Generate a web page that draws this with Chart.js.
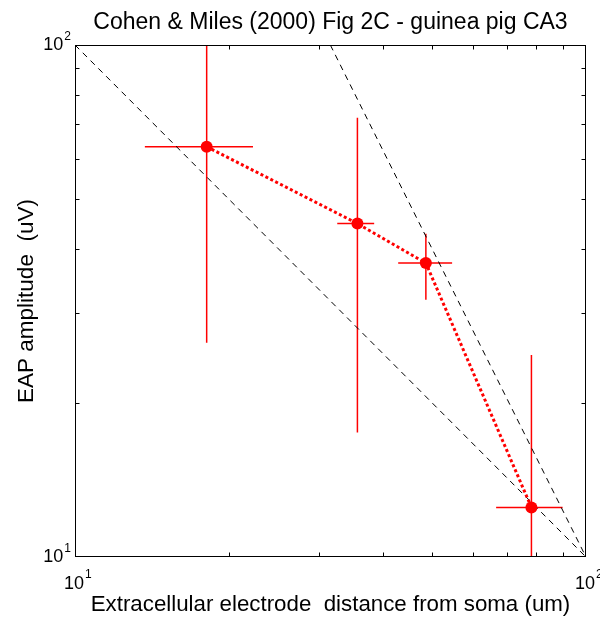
<!DOCTYPE html>
<html><head><meta charset="utf-8">
<script src="https://cdn.jsdelivr.net/npm/chart.js@4"></script>
<style>html,body{margin:0;padding:0;background:#fff}#wrap{width:600px;height:620px;position:relative}</style>
</head><body><div id="wrap"><canvas id="c"></canvas></div>
<script>
// ---- data ----
const xValues  = [18.1, 35.7, 48.6, 78.2];
const yValues  = [63.3, 44.8, 37.5, 12.5];
const xErrLow  = [13.7, 32.6, 42.9, 66.7];
const xErrHigh = [22.3, 38.5, 54.7, 90.0];
const yErrLow  = [26.2, 17.5, 31.8, 9.5];
const yErrHigh = [105, 72.1, 42.8, 24.8];
const refLineAx = [10, 100];
const refLineAy = [100, 10];
const refLineBx = [31.6, 100];
const refLineBy = [100, 10];
const xTickValues = [10, 100];
const yTickValues = [10, 100];
const xTickExps = ['1', '2'];
const yTickExps = ['1', '2'];
const minorTickValues = [20, 30, 40, 50, 60, 70, 80, 90];

const FONT = '"Liberation Sans", Arial, Helvetica, sans-serif';
const RED = '#ff0000';

const toPts = (xs, ys) => xs.map((x, i) => ({x: x, y: ys[i]}));
const snap = v => Math.round(v) + 0.5;

const decorPlugin = {
  id: 'decor',
  beforeDatasetsDraw(chart) {
    const {ctx, chartArea: a, scales: {x, y}} = chart;
    ctx.save();
    ctx.beginPath();
    ctx.rect(a.left, a.top, a.right - a.left, a.bottom - a.top);
    ctx.clip();
    ctx.strokeStyle = RED;
    ctx.lineWidth = 1.5;
    for (let i = 0; i < xValues.length; i++) {
      const px = x.getPixelForValue(xValues[i]);
      const py = y.getPixelForValue(yValues[i]);
      ctx.beginPath();
      ctx.moveTo(x.getPixelForValue(xErrLow[i]), py);
      ctx.lineTo(x.getPixelForValue(xErrHigh[i]), py);
      ctx.moveTo(px, y.getPixelForValue(yErrLow[i]));
      ctx.lineTo(px, y.getPixelForValue(yErrHigh[i]));
      ctx.stroke();
    }
    ctx.restore();
  },
  afterDraw(chart) {
    const {ctx, chartArea: a, scales: {x, y}} = chart;
    ctx.save();
    ctx.strokeStyle = '#000';
    ctx.lineWidth = 1;
    const L = Math.round(a.left) + 0.5, R = Math.round(a.right) - 0.5;
    const T = Math.round(a.top) + 0.5, B = Math.round(a.bottom) - 0.5;
    ctx.strokeRect(L, T, R - L, B - T);
    const tl = 4;
    ctx.beginPath();
    minorTickValues.forEach(v => {
      const px = snap(x.getPixelForValue(v));
      ctx.moveTo(px, B); ctx.lineTo(px, B - tl);
      ctx.moveTo(px, T); ctx.lineTo(px, T + tl);
      const py = snap(y.getPixelForValue(v));
      ctx.moveTo(L, py); ctx.lineTo(L + tl, py);
      ctx.moveTo(R, py); ctx.lineTo(R - tl, py);
    });
    ctx.stroke();
    // tick labels 10^n
    ctx.fillStyle = '#000';
    ctx.textBaseline = 'middle';
    xTickValues.forEach((v, i) => {
      const px = x.getPixelForValue(v);
      ctx.font = '18px ' + FONT;
      ctx.textAlign = 'center';
      const w = ctx.measureText('10').width;
      ctx.fillText('10', px - 1, 584);
      ctx.font = '12px ' + FONT;
      ctx.textAlign = 'left';
      ctx.fillText(xTickExps[i], px - 1 + w / 2 + 1, 575);
    });
    yTickValues.forEach((v, i) => {
      const py = y.getPixelForValue(v);
      ctx.font = '12px ' + FONT;
      ctx.textAlign = 'right';
      const ew = ctx.measureText(yTickExps[i]).width;
      ctx.fillText(yTickExps[i], 71, py - 8);
      ctx.font = '18px ' + FONT;
      ctx.fillText('10', 71 - ew - 1, py);
    });
    ctx.restore();
  }
};

new Chart(document.getElementById('c'), {
  type: 'scatter',
  data: {
    datasets: [
      {
        data: toPts(xValues, yValues),
        showLine: true,
        borderColor: RED,
        borderWidth: 3,
        borderDash: [3, 2.5],
        pointRadius: 6,
        pointBackgroundColor: RED,
        pointBorderWidth: 0,
        pointStyle: 'circle'
      },
      {
        data: toPts(refLineAx, refLineAy),
        showLine: true,
        borderColor: '#000',
        borderWidth: 1,
        borderDash: [6, 5],
        pointRadius: 0
      },
      {
        data: toPts(refLineBx, refLineBy),
        showLine: true,
        borderColor: '#000',
        borderWidth: 1,
        borderDash: [6, 5],
        pointRadius: 0
      }
    ]
  },
  options: {
    responsive: true,
    maintainAspectRatio: false,
    animation: false,
    devicePixelRatio: 1,
    layout: {padding: {left: 0, right: 14, top: 0, bottom: 0}},
    plugins: {
      legend: {display: false},
      tooltip: {enabled: false},
      title: {
        display: true,
        fullSize: false,
        text: 'Cohen & Miles (2000) Fig 2C - guinea pig CA3',
        color: '#000',
        font: {family: FONT, size: 23, weight: 'normal', lineHeight: 1.2},
        padding: {top: 8.5, bottom: 8.9}
      }
    },
    scales: {
      x: {
        type: 'logarithmic', min: 10, max: 100,
        ticks: {display: false},
        grid: {display: false, drawTicks: false},
        border: {display: false},
        title: {
          display: true,
          text: 'Extracellular electrode  distance from soma (um)',
          color: '#000',
          font: {family: FONT, size: 22.3, weight: 'normal', lineHeight: 1.2},
          padding: {top: 34.6, bottom: 1.6}
        }
      },
      y: {
        type: 'logarithmic', min: 10, max: 100,
        ticks: {display: false},
        grid: {display: false, drawTicks: false},
        border: {display: false},
        title: {
          display: true,
          text: 'EAP amplitude  (uV)',
          color: '#000',
          font: {family: FONT, size: 22.5, weight: 'normal', lineHeight: 1.2},
          padding: {top: 13.5, bottom: 34.5}
        }
      }
    }
  },
  plugins: [decorPlugin]
});
</script>
</body></html>
